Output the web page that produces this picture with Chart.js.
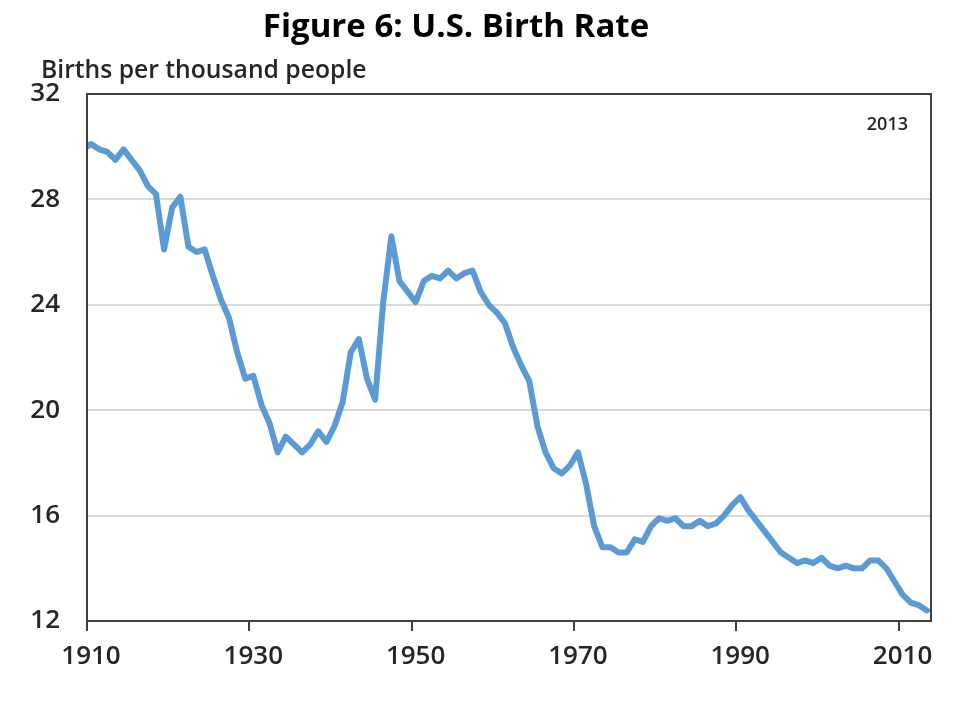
<!DOCTYPE html>
<html>
<head>
<meta charset="utf-8">
<script src="https://cdn.jsdelivr.net/npm/chart.js@4"></script>
<style>
  body { margin: 0; background: #fff; }
</style>
</head>
<body>
<canvas id="myChart" width="972" height="702"></canvas>
<script>
// data (births per 1,000 people), one value per year
const YEARS = []
for (var yr = 1909; yr <= 2013; yr++) YEARS.push(yr)

const BIRTH_RATE = [
  29.9, 30.1, 29.9, 29.8, 29.5, 29.9, 29.5, 29.1, 28.5, 28.2, // 1909-1918
  26.1, 27.7, 28.1, 26.2, 26.0, 26.1, 25.1, 24.2, 23.5, 22.2, // 1919-1928
  21.2, 21.3, 20.2, 19.5, 18.4, 19.0, 18.7, 18.4, 18.7, 19.2, // 1929-1938
  18.8, 19.4, 20.3, 22.2, 22.7, 21.2, 20.4, 24.1, 26.6, 24.9, // 1939-1948
  24.5, 24.1, 24.9, 25.1, 25.0, 25.3, 25.0, 25.2, 25.3, 24.5, // 1949-1958
  24.0, 23.7, 23.3, 22.4, 21.7, 21.1, 19.4, 18.4, 17.8, 17.6, // 1959-1968
  17.9, 18.4, 17.2, 15.6, 14.8, 14.8, 14.6, 14.6, 15.1, 15.0, // 1969-1978
  15.6, 15.9, 15.8, 15.9, 15.6, 15.6, 15.8, 15.6, 15.7, 16.0, // 1979-1988
  16.4, 16.7, 16.2, 15.8, 15.4, 15.0, 14.6, 14.4, 14.2, 14.3, // 1989-1998
  14.2, 14.4, 14.1, 14.0, 14.1, 14.0, 14.0, 14.3, 14.3, 14.0, // 1999-2008
  13.5, 13.0, 12.7, 12.6, 12.4                                // 2009-2013
]

const X_TICKS = [1910, 1930, 1950, 1970, 1990, 2010]
const Y_MIN = 12
const Y_MAX = 32
const Y_STEP = 4
const X_MIN = 1910
const X_MAX = 2014

const TITLE = 'Figure 6: U.S. Birth Rate'
const Y_TITLE = 'Births per thousand people'
const NOTE = '2013'

const FONT = '"Open Sans", "Noto Sans", sans-serif'

// excel puts each year in the middle of its slot
var points = YEARS.map(function (y, i) { return { x: y + 0.5, y: BIRTH_RATE[i] } })

// title, axis title, note and the plot frame
var decorations = {
  id: 'decorations',
  afterDraw: function (chart) {
    var ctx = chart.ctx
    var area = chart.chartArea
    ctx.save()
    ctx.strokeStyle = '#404040'
    ctx.lineWidth = 2
    ctx.strokeRect(area.left, area.top, area.right - area.left, area.bottom - area.top)

    ctx.fillStyle = '#000'
    ctx.textBaseline = 'alphabetic'
    ctx.textAlign = 'center'
    ctx.font = 'bold 33px ' + FONT
    ctx.fillText(TITLE, 456, 37)

    ctx.fillStyle = '#262626'
    ctx.textAlign = 'left'
    ctx.font = '600 24.7px ' + FONT
    ctx.fillText(Y_TITLE, 41, 78)

    ctx.textAlign = 'right'
    ctx.font = '600 18px ' + FONT
    ctx.fillText(NOTE, 908, 130)
    ctx.restore()
  }
}

var ctx = document.getElementById('myChart').getContext('2d')
var myChart = new Chart(ctx, {
  type: 'line',
  data: {
    datasets: [{
      label: 'Birth rate',
      data: points,
      borderColor: '#5b9bd5',
      borderWidth: 6,
      pointRadius: 0,
      tension: 0,
      borderJoinStyle: 'round',
      borderCapStyle: 'round'
    }]
  },
  options: {
    responsive: false,
    animation: false,
    layout: { padding: { top: 94, right: 41, left: 0, bottom: 0 } },
    plugins: {
      legend: { display: false },
      title: { display: false },
      tooltip: { enabled: false }
    },
    scales: {
      x: {
        type: 'linear',
        min: X_MIN,
        max: X_MAX,
        afterBuildTicks: function (scale) {
          scale.ticks = X_TICKS.map(function (v) { return { value: v } })
        },
        afterFit: function (scale) { scale.height = 81 },
        border: { display: false },
        grid: {
          drawOnChartArea: false,
          drawTicks: true,
          tickLength: 10,
          color: '#404040',
          lineWidth: 2
        },
        ticks: {
          autoSkip: false,
          maxRotation: 0,
          padding: 10,
          labelOffset: 4,
          color: '#262626',
          font: { family: FONT, size: 26, weight: '600' },
          callback: function (v) { return String(v) }
        }
      },
      y: {
        min: Y_MIN,
        max: Y_MAX,
        afterFit: function (scale) { scale.width = 87 },
        border: { display: false },
        grid: {
          drawTicks: false,
          color: function (c) {
            return (c.tick.value === Y_MIN || c.tick.value === Y_MAX) ? 'rgba(0,0,0,0)' : '#d9d9d9'
          },
          lineWidth: 2
        },
        ticks: {
          stepSize: Y_STEP,
          padding: 27,
          color: '#262626',
          font: { family: FONT, size: 26, weight: '600' }
        }
      }
    }
  },
  plugins: [decorations]
})
</script>
</body>
</html>
